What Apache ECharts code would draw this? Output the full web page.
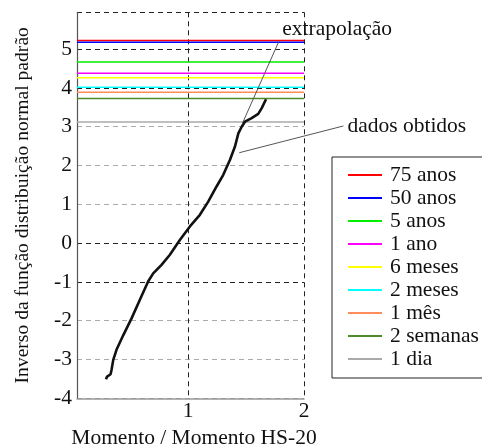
<!DOCTYPE html>
<html>
<head>
<meta charset="utf-8">
<script src="https://cdn.jsdelivr.net/npm/echarts@6/dist/echarts.min.js"></script>
<style>
html, body { margin: 0; padding: 0; background: #fff; }
#main { width: 482px; height: 446px; }
</style>
</head>
<body>
<div id="main"></div>
<script>
// niveis (periodos de retorno)
var levelNames = ['75 anos', '50 anos', '5 anos', '1 ano', '6 meses', '2 meses', '1 mês', '2 semanas', '1 dia'];
var levelValues = [5.22, 5.18, 4.67, 4.38, 4.26, 4.02, 3.89, 3.73, 3.125];
var levelColors = ['#ff0000', '#0000ff', '#00ee00', '#ff00ff', '#ffff00', '#00ffff', '#ff8c5a', '#4f8a2a', '#aaaaaa'];

// dados obtidos
var curveX = [0.29, 0.30, 0.33, 0.338, 0.353, 0.381, 0.44, 0.511, 0.583, 0.654, 0.698, 0.770, 0.842, 0.928, 1.015, 1.101, 1.173, 1.245, 1.303, 1.361, 1.404, 1.433, 1.462, 1.490, 1.548, 1.605, 1.635, 1.672];
var curveY = [-3.51, -3.44, -3.38, -3.27, -3.01, -2.75, -2.37, -1.94, -1.46, -0.99, -0.78, -0.56, -0.30, 0.08, 0.43, 0.73, 1.07, 1.46, 1.76, 2.15, 2.49, 2.83, 3.00, 3.13, 3.22, 3.33, 3.48, 3.71];

// extrapolacao e seta do texto
var extrapX = [1.47, 1.786];
var extrapY = [3.1, 5.22];
var arrowX = [1.441, 2.34];
var arrowY = [2.33, 3.02];

var xMin = 0.04, xMax = 2;
var yMin = -4, yMax = 5.95;
var xTicks = [1, 2];

var font = 'Liberation Serif';
var fs = 21.5;

function pairs(xs, ys) {
    var out = [];
    for (var i = 0; i < xs.length; i++) out.push([xs[i], ys[i]]);
    return out;
}

var series = [];
for (var i = 0; i < levelNames.length; i++) {
    series.push({
        name: levelNames[i],
        type: 'line',
        symbol: 'none',
        color: levelColors[i],
        lineStyle: { width: 1.5, color: levelColors[i] },
        data: [[xMin, levelValues[i]], [xMax, levelValues[i]]],
        z: 3
    });
}
series.push({
    name: 'curva',
    type: 'line',
    symbol: 'none',
    lineStyle: { width: 2.6, color: '#111' },
    data: pairs(curveX, curveY),
    z: 5
});
series.push({
    name: 'extrap',
    type: 'line',
    symbol: 'none',
    lineStyle: { width: 1, color: '#555' },
    data: pairs(extrapX, extrapY),
    endLabel: {
        show: true, formatter: 'extrapolação', color: '#111',
        fontFamily: font, fontSize: fs, offset: [-5, -11]
    },
    z: 4
});

var myChart = echarts.init(document.getElementById('main'));
var option = {
    animation: false,
    backgroundColor: '#fff',
    textStyle: { fontFamily: font },
    grid: { left: 77, right: 178, top: 12.3, bottom: 47.7, outerBoundsMode: 'none', containLabel: false },
    legend: {
        data: levelNames,
        orient: 'vertical',
        left: 332,
        top: 157,
        icon: 'rect',
        itemWidth: 34,
        itemHeight: 2,
        itemGap: 1,
        padding: [7, 12, 8, 16],
        backgroundColor: '#fff',
        borderColor: '#222',
        borderWidth: 1,
        borderRadius: 0,
        selectedMode: false,
        textStyle: { fontFamily: font, fontSize: fs, color: '#111', padding: [0, 0, 0, 3] }
    },
    xAxis: {
        type: 'value',
        min: xMin,
        max: xMax,
        name: 'Momento / Momento HS-20',
        nameLocation: 'middle',
        nameGap: 22,
        nameTextStyle: { fontFamily: font, fontSize: fs, color: '#111', padding: [0, 0, 0, 7] },
        axisLine: { show: true, onZero: false, lineStyle: { color: '#999', width: 1.5 } },
        axisTick: { show: false, customValues: xTicks },
        axisLabel: { customValues: xTicks, fontFamily: font, fontSize: fs, color: '#111', margin: 2 },
        splitLine: { show: true, lineStyle: { color: '#222', width: 1, type: [5, 4] } }
    },
    yAxis: {
        type: 'value',
        min: yMin,
        max: yMax,
        interval: 1,
        name: 'Inverso da função distribuição normal padrão',
        nameLocation: 'middle',
        nameGap: 44,
        nameTextStyle: { fontFamily: font, fontSize: 19.6, color: '#111' },
        axisLine: { show: true, onZero: false, lineStyle: { color: '#555', width: 1.2 } },
        axisTick: { show: false },
        axisLabel: {
            fontFamily: font, fontSize: fs, color: '#111', margin: 5,
            formatter: function (v) { return Number.isInteger(v) ? String(v) : ''; }
        },
        splitLine: {
            show: true,
            lineStyle: {
                color: ['#999', '#aaa', '#aaa', '#222', '#222', '#aaa', '#aaa', '#aaa', '#222', '#222', '#222'],
                width: 1.2,
                type: [5, 4]
            }
        }
    },
    series: series
};
myChart.setOption(option);

// seta "dados obtidos" sai do grid, entao vai como graphic
var p0 = myChart.convertToPixel({ gridIndex: 0 }, [arrowX[0], arrowY[0]]);
var p1 = myChart.convertToPixel({ gridIndex: 0 }, [arrowX[1], arrowY[1]]);
myChart.setOption({
    graphic: [
        {
            type: 'line',
            shape: { x1: p0[0], y1: p0[1], x2: p1[0], y2: p1[1] },
            style: { stroke: '#555', lineWidth: 1 },
            z: 10
        },
        {
            type: 'text',
            x: p1[0] + 4,
            y: p1[1],
            style: {
                text: 'dados obtidos', fill: '#111',
                font: fs + 'px "' + font + '"',
                textVerticalAlign: 'middle', verticalAlign: 'middle'
            },
            z: 10
        }
    ]
});
</script>
</body>
</html>
